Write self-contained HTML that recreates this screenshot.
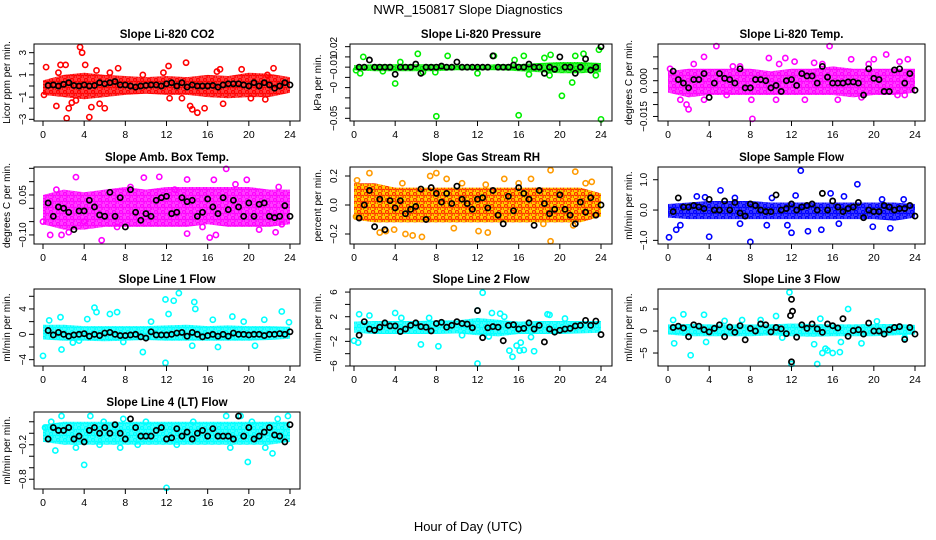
<!DOCTYPE html>
<html><head><meta charset="utf-8"><style>
html,body{margin:0;padding:0;background:#fff;}
svg{display:block;font-family:"Liberation Sans",sans-serif;}
</style></head><body>
<svg id="chart" width="936" height="540" viewBox="0 0 936 540" xmlns="http://www.w3.org/2000/svg">
<defs id="defs"></defs>
<text x="468" y="14" text-anchor="middle" font-size="13">NWR_150817  Slope Diagnostics</text>
<text x="468" y="531" text-anchor="middle" font-size="13">Hour of Day (UTC)</text>
<g id="panels"></g>
</svg>
<script>
const hours = [0.5,1,1.5,2,2.5,3,3.5,4,4.5,5,5.5,6,6.5,7,7.5,8,8.5,9,9.5,10,10.5,11,11.5,12,12.5,13,13.5,14,14.5,15,15.5,16,16.5,17,17.5,18,18.5,19,19.5,20,20.5,21,21.5,22,22.5,23,23.5,24];
const bandHours = [0,2,4,6,8,10,12,14,16,18,20,22,24];
const xTicks = [0,4,8,12,16,20,24];

const p1Hi=[0.5,1.0,1.2,1.0,0.9,0.8,0.9,0.8,1.0,0.9,1.2,1.1,0.8];
const p1Lo=[-0.8,-1.0,-1.2,-1.0,-0.8,-0.7,-0.8,-0.8,-1.0,-1.1,-1.0,-1.0,-0.6];
const p1Pts=[[0.3,1.7],[1.3,-1.8],[1.7,1.9],[2.2,1.9],[2.3,-2.9],[2.5,-2.0],[3.6,3.5],[3.8,3.0],[4.1,1.9],[4.5,-2.8],[4.7,-1.9],[5.5,-1.6],[6.0,-2.0],[7.3,1.6],[9.7,1.0],[11.7,1.2],[12.2,1.8],[12.3,-1.1],[13.5,-1.1],[13.9,2.1],[14.3,-1.8],[14.5,-2.1],[15.0,-2.4],[15.7,-2.0],[16.9,1.3],[17.5,-1.6],[19.3,1.5],[20.2,-1.1],[21.6,-1.2],[22.4,1.6],[21.8,1.0],[2.8,-1.5],[1.5,1.2],[5.2,1.4],[0.1,-0.8],[3.2,-1.3],[6.5,1.2],[17.2,1.5]];
const p1Black=[0.05,0.1,0.0,0.15,0.3,0.05,0.0,0.1,0.0,0.05,0.3,0.2,0.3,0.4,0.1,0.1,0.0,-0.1,0.0,0.05,0.1,0.1,0.0,0.2,0.3,0.0,0.3,-0.1,0.1,0.0,0.0,0.0,0.05,-0.1,0.1,0.2,0.2,0.2,0.1,0.0,0.3,0.0,0.3,0.1,-0.2,0.0,0.3,0.1];

const p2Hi=[0.002,0.003,0.003,0.003,0.003,0.002,0.002,0.003,0.003,0.004,0.005,0.005,0.004];
const p2Lo=[-0.003,-0.004,-0.004,-0.004,-0.004,-0.003,-0.003,-0.003,-0.004,-0.005,-0.006,-0.006,-0.005];
const p2Pts=[[8,-0.048],[16,-0.047],[24,-0.051],[20.2,-0.028],[4,-0.016],[0.6,-0.006],[0.9,0.010],[6.2,0.013],[9.1,0.011],[13.6,0.011],[16.5,0.011],[19.1,0.012],[22.3,0.013],[23.8,0.017],[17,-0.007],[12,-0.006],[21.2,-0.015],[19,-0.008],[4.5,0.005],[2.8,-0.004],[7.9,-0.005],[0.2,-0.003],[6.7,-0.005],[15.6,0.007],[18.5,0.009],[21.5,0.011],[23.5,-0.008]];
const p2Black=[0,0,0.007,0,0,0,0,-0.007,0,0,0,0.003,-0.006,0,0,0,0.001,0,0,0.005,0,0,0,0,0,0,0.011,0,0,0,0.002,0,0,0.003,0,0,-0.006,0,-0.002,0.01,0,0,-0.006,0,0.008,-0.003,0,0.02];

const p3Hi=[0.004,0.005,0.005,0.005,0.005,0.004,0.005,0.005,0.006,0.005,0.005,0.005,0.005];
const p3Lo=[-0.005,-0.007,-0.006,-0.006,-0.006,-0.006,-0.006,-0.006,-0.006,-0.007,-0.006,-0.006,-0.005];
const p3Pts=[[4.7,0.0145],[15.7,0.0145],[8.2,-0.016],[2,-0.012],[1.8,-0.010],[21.2,0.011],[3.5,0.010],[9.8,0.0095],[11.4,0.0095],[0.2,0.005],[1.2,-0.008],[7,0.006],[12.3,0.008],[14.2,0.0075],[17.8,0.009],[20,0.009],[22.5,0.008],[23.3,0.009],[8.1,-0.008],[10.5,-0.008],[13.3,-0.008],[16.5,-0.008],[22.3,-0.006],[23,-0.006],[5.7,-0.006],[3.5,-0.008],[18.8,-0.007],[2.5,0.007],[6.3,0.006],[10.8,0.007],[15.0,0.007],[19.5,0.007]];
const p3Black=[0.004,0.0005,-0.001,-0.003,0.0005,0.0005,0.003,-0.007,-0.001,0.003,0.001,0.0005,-0.001,0.005,-0.003,-0.003,0.0005,0.0005,0,-0.003,-0.002,-0.0045,0,0.0005,-0.002,0.003,0.002,0.002,-0.001,0.006,0.0015,-0.001,-0.001,-0.001,-0.0005,-0.0005,-0.001,-0.006,0.005,0.001,0.0005,-0.0045,-0.0045,0.0045,0.005,-0.001,0.003,-0.004];

const p4Hi=[0.05,0.07,0.06,0.07,0.08,0.07,0.08,0.08,0.08,0.08,0.08,0.07,0.07];
const p4Lo=[-0.06,-0.08,-0.08,-0.07,-0.07,-0.07,-0.07,-0.07,-0.06,-0.07,-0.07,-0.07,-0.06];
const p4Pts=[[3.2,0.117],[9.8,0.115],[11.3,0.118],[17.8,0.148],[19.8,0.107],[16.6,0.107],[5.7,-0.12],[0.7,-0.10],[1.8,-0.1],[14,-0.095],[16.2,-0.11],[16.8,-0.1],[22.6,-0.09],[7.2,-0.07],[4,-0.05],[21,-0.08],[23.2,-0.06],[14,0.108],[1.3,0.07],[22.9,0.08],[0,-0.05],[2.5,-0.09],[8.5,0.08],[12.8,0.07],[15.5,-0.07],[18.7,0.09]];
const p4Black=[0.02,-0.03,0.005,0,-0.015,-0.08,-0.01,-0.01,0.03,0.005,-0.025,-0.03,0.06,-0.03,0.04,-0.07,0.07,-0.015,-0.045,-0.02,-0.03,0.03,0.04,0.045,-0.02,-0.015,0.04,0.025,0.03,-0.03,-0.015,0.035,0.005,-0.02,0.04,-0.005,0.03,0.005,-0.03,0.02,-0.03,0.015,0.02,-0.03,-0.035,-0.03,0.01,-0.03];

const p5Hi=[0.15,0.15,0.12,0.12,0.12,0.12,0.12,0.12,0.12,0.12,0.12,0.12,0.08];
const p5Lo=[-0.1,-0.12,-0.12,-0.12,-0.12,-0.12,-0.12,-0.12,-0.12,-0.12,-0.12,-0.12,-0.08];
const p5Pts=[[1.5,0.22],[8,0.22],[9,0.18],[14.6,0.18],[17.2,0.18],[19.1,0.24],[21.5,0.23],[19.1,-0.25],[2.5,-0.19],[3.1,-0.18],[5,-0.2],[5.7,-0.21],[6.6,-0.22],[9.7,-0.16],[12.1,-0.18],[13,-0.19],[3.9,-0.17],[18.4,-0.13],[21.3,-0.14],[0.3,0.17],[7.4,0.2],[12.8,0.14],[23.1,0.16],[0.2,-0.08],[4.7,0.15],[10.5,0.15],[16,0.15],[22.5,0.15]];
const p5Black=[-0.09,0.0,0.1,-0.15,0.04,-0.17,0.03,-0.02,0.03,-0.06,-0.03,-0.01,0.11,-0.1,0.12,0.08,0.02,0.08,0.01,0.13,0.04,0.01,-0.03,0.04,0.05,-0.02,0.1,-0.07,-0.13,0.06,-0.04,0.12,0.08,0.04,-0.14,0.1,0.01,-0.06,-0.03,0.07,-0.03,-0.07,-0.13,0.02,-0.05,0.05,-0.07,0.0];

const p6Hi=[0.2,0.25,0.3,0.3,0.3,0.25,0.25,0.25,0.25,0.25,0.25,0.25,0.2];
const p6Lo=[-0.25,-0.3,-0.3,-0.3,-0.3,-0.3,-0.3,-0.3,-0.3,-0.3,-0.3,-0.35,-0.25];
const p6Pts=[[12.9,1.3],[18.4,0.85],[5.1,0.65],[15.8,0.55],[0.1,-0.9],[4,-0.88],[8,-1.05],[12,-0.75],[13.6,-0.7],[14.9,-0.65],[0.8,-0.65],[2.8,0.45],[3.6,0.42],[12.4,0.48],[17.1,0.45],[21.6,-0.6],[19.9,-0.55],[9.6,-0.5],[11.6,-0.5],[22.9,0.35],[1.2,-0.5],[6.5,0.4],[10.1,0.4],[7,-0.45],[16.6,-0.45],[20.8,0.35]];
const p6Black=[-0.05,0.4,0.1,0.1,0.15,0.1,0.05,0.35,0.0,0.0,0.3,0.0,0.25,-0.1,-0.2,0.2,0.15,0.0,-0.05,-0.05,0.5,0.0,0.05,0.2,0.0,0.1,0.15,0.2,0.0,0.55,0.0,0.3,0.1,-0.05,0.05,0.1,0.25,-0.25,0.0,-0.05,-0.05,0.15,0.1,0.0,0.05,0.05,0.15,-0.2];

const p7Hi=[1.5,1.5,1.3,1.3,1.3,1.3,1.4,1.5,1.3,1.4,1.3,1.3,1.2];
const p7Lo=[-0.8,-1.0,-1.0,-1.1,-1.0,-0.9,-1.0,-1.0,-1.0,-1.0,-1.0,-0.9,-0.7];
const p7Pts=[[13.2,6.5],[11.9,5.5],[12.7,5.3],[14.7,5.1],[14.8,4.0],[5,4.2],[5.2,3.5],[7.2,3.5],[23.2,3.6],[0,-3.4],[1.8,-2.4],[9.7,-2.8],[11.9,-4.5],[14.5,-1.8],[17,-2],[20.6,-1.8],[12.2,3.2],[6.5,3.2],[1.7,2.7],[16.5,2.3],[18.4,2.8],[21.5,2.3],[7.8,-1.2],[3.5,-1],[23.9,1.9],[0.6,2.2],[10.5,2.0],[4.3,2.4],[19.5,2.0],[2.9,-1.3]];
const p7Black=[0.6,-0.1,0.3,0.0,-0.3,-0.1,0.0,0.1,-0.3,0.0,-0.2,0.2,0.3,0.0,-0.2,-0.2,-0.1,0.0,-0.4,-0.6,0.4,-0.1,-0.1,-0.1,0.0,0.2,0.3,-0.3,0.3,0.0,-0.4,-0.2,0.0,-0.3,0.0,-0.3,0.2,0.0,0.0,-0.1,0.0,0.0,-0.2,0.0,0.0,0.1,0.0,0.4];

const p8Hi=[1.2,1.3,1.3,1.3,1.4,1.4,1.8,1.5,1.2,1.3,1.3,1.3,1.3];
const p8Lo=[-0.6,-0.8,-0.8,-0.8,-0.8,-0.7,-1.0,-1.2,-0.8,-0.8,-0.8,-0.7,-0.6];
const p8Pts=[[0.5,2.4],[1.5,2.2],[4,2.6],[12,3],[12.5,5.9],[14.2,2.5],[19,2.3],[15.1,-3.5],[15.8,-2.7],[16.1,-3.5],[16.5,-3.4],[17.5,-3.6],[15.4,-4.5],[6.5,-2.5],[8.2,-2.8],[12,-5.6],[13.1,-1.2],[0,-1.9],[0.4,-2.2],[17.2,-1.3],[18.8,2.4],[10.5,-1.0],[4.6,1.8],[7.3,1.8],[13.4,2.6],[14.6,2.0],[16.2,-2.2],[20.5,1.7]];
const p8Black=[-1.0,1.2,0.0,-0.2,0.3,1.0,0.5,0.5,-0.4,0.0,0.6,1.0,0.4,0.3,-0.3,0.9,1.1,0.3,0.6,1.2,0.9,0.8,0.2,3.0,-1.4,0.2,0.4,0.3,-1.9,0.6,0.7,0.0,0.1,1.0,0.0,0.6,-2.1,0.0,-0.5,-0.2,0.0,0.1,0.5,0.6,1.4,0.6,1.3,-0.9];

const p9Hi=[1.5,1.6,1.5,1.5,1.5,1.5,1.7,1.6,1.5,1.5,1.6,1.6,1.4];
const p9Lo=[-0.8,-1.2,-1.2,-1.2,-1.2,-1.0,-1.2,-1.3,-1.2,-1.2,-1.2,-1.0,-0.8];
const p9Pts=[[11.8,8.8],[12,-7.5],[14.5,-7.5],[14.2,-3],[15,-5],[15.3,-4],[15.5,-4.4],[16,-5],[16.7,-4.8],[16.8,-2.5],[17.5,5],[2.2,-5.5],[0.6,-2.8],[1.5,3.8],[3.5,3.7],[3.7,-2.5],[10.5,3.4],[18.8,-2.8],[11.1,-1.5],[7.2,2.5],[0.5,2.5],[5.5,2.3],[9,2.5],[14.8,2.8],[20.3,2.2],[23,-1.5]];
const p9Black=[0.8,1.1,0.7,-1.3,1.4,1.1,0.3,-0.2,0.6,1.4,-1.3,0.9,-0.3,1.2,-2,0.6,0.0,1.6,1.4,-0.2,0.8,0.5,-0.6,7.2,-1.4,1.4,0.6,1.6,0.5,-0.3,1.6,1.2,0.7,2.8,-1.2,0.1,0.3,-0.7,1.8,0.0,0.0,-0.7,0.3,0.8,1.0,-1.9,0.8,-0.7];
const p9BlackExtra=[[12.1,4.5],[11.9,3.5],[12,-7]];

const p10Hi=[0.15,0.2,0.2,0.2,0.2,0.2,0.2,0.2,0.2,0.2,0.2,0.2,0.2];
const p10Lo=[-0.15,-0.2,-0.2,-0.2,-0.2,-0.2,-0.2,-0.2,-0.2,-0.2,-0.2,-0.2,-0.15];
const p10Pts=[[4,-0.55],[12,-0.95],[19.9,-0.5],[22.3,-0.35],[4.6,0.3],[1.8,0.3],[17.8,0.3],[19.2,0.3],[23.8,0.3],[7.8,0.25],[1.2,-0.3],[3.2,-0.25],[5.5,-0.2],[7.5,-0.25],[13,-0.2],[18.2,-0.25],[21.6,-0.25],[9.2,-0.2],[0.2,0.1],[0.8,0.2],[5.9,0.2],[10,0.2],[14.6,0.2],[20.3,0.2],[22.8,0.25]];
const p10Black=[-0.1,0.1,0.05,0.05,0.1,-0.1,-0.05,-0.15,0.05,0.1,0.0,0.1,0.0,0.15,0.0,-0.1,0.25,0.1,-0.05,-0.05,-0.05,0.05,0.1,-0.1,-0.08,0.08,-0.05,0.02,-0.1,0.0,0.05,-0.05,0.08,-0.05,-0.05,-0.05,-0.1,0.3,-0.05,0.1,-0.1,-0.05,0.02,0.1,-0.03,-0.05,-0.15,0.15];

const p1Ticks=[3,2,1,0,-1,-2,-3], p1Labels=["3","","1","","−1","","−3"];
const p2Ticks=[0.02,0.01,0,-0.01,-0.02,-0.03,-0.04,-0.05], p2Labels=["0.02","","−0.01","","−0","","","−0.05"];
const p3Ticks=[0.01,0.005,0,-0.005,-0.01,-0.015], p3Labels=["","","0.000","","","−0.015"];
const p4Ticks=[0.15,0.1,0.05,0,-0.05,-0.1], p4Labels=["","","0.05","","","−0.10"];
const p5Ticks=[0.2,0,-0.2], p5Labels=["0.2","0.0","−0.2"];
const p6Ticks=[1,0,-1], p6Labels=["1.0","0.0","−1.0"];
const p7Ticks=[6,4,2,0,-2,-4], p7Labels=["","4","","0","","−4"];
const p8Ticks=[6,4,2,0,-2,-4,-6], p8Labels=["6","","2","","−2","","−6"];
const p9Ticks=[5,0,-5], p9Labels=["5","0","−5"];
const p10Ticks=[0.2,0,-0.2,-0.4,-0.6,-0.8], p10Labels=["","","−0.2","","","−0.8"];

const colLeft=[34,350,658], colRight=[300,612,925], colX0=[43,354,668], colX24=[290,601,915];
const colTitleX=[10,321,632], colTickX=[26,337,647];
const rowTop=[44,167,289,412], boxH=77;

const panels=[
 {name:"li820-co2",title:"Slope Li-820 CO2",ylab:"Licor ppm per min.",col:0,row:0,ymin:-3.15,ymax:3.78,color:"#ff0000",hi:p1Hi,lo:p1Lo,pts:p1Pts,black:p1Black,extra:[],ticks:p1Ticks,labels:p1Labels},
 {name:"li820-pressure",title:"Slope Li-820 Pressure",ylab:"kPa per min.",col:1,row:0,ymin:-0.0526,ymax:0.0226,color:"#00ee00",hi:p2Hi,lo:p2Lo,pts:p2Pts,black:p2Black,extra:[],ticks:p2Ticks,labels:p2Labels},
 {name:"li820-temp",title:"Slope Li-820 Temp.",ylab:"degrees C per min.",col:2,row:0,ymin:-0.0169,ymax:0.0154,color:"#ff00ff",hi:p3Hi,lo:p3Lo,pts:p3Pts,black:p3Black,extra:[],ticks:p3Ticks,labels:p3Labels},
 {name:"amb-box-temp",title:"Slope Amb. Box Temp.",ylab:"degrees C per min.",col:0,row:1,ymin:-0.134,ymax:0.155,color:"#ff00ff",hi:p4Hi,lo:p4Lo,pts:p4Pts,black:p4Black,extra:[],ticks:p4Ticks,labels:p4Labels},
 {name:"gas-stream-rh",title:"Slope Gas Stream RH",ylab:"percent per min.",col:1,row:1,ymin:-0.269,ymax:0.262,color:"#ff3000",color2:"#ffd000",pcolor:"#ff9a00",hi:p5Hi,lo:p5Lo,pts:p5Pts,black:p5Black,extra:[],ticks:p5Ticks,labels:p5Labels},
 {name:"sample-flow",title:"Slope Sample Flow",ylab:"ml/min per min.",col:2,row:1,ymin:-1.12,ymax:1.42,color:"#0000ff",hi:p6Hi,lo:p6Lo,pts:p6Pts,black:p6Black,extra:[],ticks:p6Ticks,labels:p6Labels},
 {name:"line1-flow",title:"Slope Line 1 Flow",ylab:"ml/min per min.",col:0,row:2,ymin:-5.0,ymax:7.15,color:"#00ffff",hi:p7Hi,lo:p7Lo,pts:p7Pts,black:p7Black,extra:[],ticks:p7Ticks,labels:p7Labels},
 {name:"line2-flow",title:"Slope Line 2 Flow",ylab:"ml/min per min.",col:1,row:2,ymin:-6.0,ymax:6.5,color:"#00ffff",hi:p8Hi,lo:p8Lo,pts:p8Pts,black:p8Black,extra:[],ticks:p8Ticks,labels:p8Labels},
 {name:"line3-flow",title:"Slope Line 3 Flow",ylab:"ml/min per min.",col:2,row:2,ymin:-7.95,ymax:9.55,color:"#00ffff",hi:p9Hi,lo:p9Lo,pts:p9Pts,black:p9Black,extra:p9BlackExtra,ticks:p9Ticks,labels:p9Labels},
 {name:"line4-flow",title:"Slope Line 4 (LT) Flow",ylab:"ml/min per min.",col:0,row:3,ymin:-0.97,ymax:0.37,color:"#00ffff",hi:p10Hi,lo:p10Lo,pts:p10Pts,black:p10Black,extra:[],ticks:p10Ticks,labels:p10Labels}
];

const NS="http://www.w3.org/2000/svg";
function mk(tag,attrs,parent){const e=document.createElementNS(NS,tag);for(const k in attrs)e.setAttribute(k,attrs[k]);parent.appendChild(e);return e;}
const root=document.getElementById('panels');
const defs=document.getElementById('defs');

panels.forEach((p,pi)=>{
  const L=colLeft[p.col],R=colRight[p.col],T=rowTop[p.row],B=T+boxH;
  const xs=h=>colX0[p.col]+(colX24[p.col]-colX0[p.col])*h/24;
  const ys=v=>T+(p.ymax-v)/(p.ymax-p.ymin)*boxH;
  // mottled pattern
  const pat=mk('pattern',{id:'pat'+pi,width:7,height:6,patternUnits:'userSpaceOnUse'},defs);
  mk('rect',{x:0,y:0,width:7,height:6,fill:p.color2||p.color,'fill-opacity':p.color2?1:0.75},pat);
  mk('circle',{cx:2,cy:2,r:1.6,fill:'none',stroke:p.color,'stroke-width':1.3},pat);
  mk('circle',{cx:5.5,cy:5,r:1.6,fill:'none',stroke:p.color,'stroke-width':1.3},pat);
  const g=mk('g',{},root);
  
  
  const t=mk('text',{x:(L+R)/2,y:T-6,'text-anchor':'middle','font-size':11.5,'font-weight':'bold'},g);
  t.textContent=p.title;
  
  
  let d='';
  bandHours.forEach((h,i)=>{d+=(i?'L':'M')+xs(h).toFixed(1)+','+ys(p.hi[i]).toFixed(1);});
  for(let i=bandHours.length-1;i>=0;i--)d+='L'+xs(bandHours[i]).toFixed(1)+','+ys(p.lo[i]).toFixed(1);
  const band=mk('path',{d:d+'Z',fill:'url(#pat'+pi+')',stroke:'none'},g);
  
  
  p.pts.forEach(q=>{
    const c=mk('circle',{cx:xs(q[0]),cy:ys(q[1]),r:2.6,fill:'none',stroke:p.pcolor||p.color,'stroke-width':1.6},g);
    
    
  });
  const bl=hours.map((h,i)=>[h,p.black[i]]).concat(p.extra);
  bl.forEach(q=>{
    const c=mk('circle',{cx:xs(q[0]),cy:ys(q[1]),r:2.6,fill:'none',stroke:'#000','stroke-width':1.7},g);
    
    
  });
  const box=mk('rect',{x:L,y:T,width:R-L,height:boxH,fill:'none',stroke:'#000','stroke-width':1},g);
  
  
  xTicks.forEach(h=>{
    const x=xs(h);
    const tk=mk('line',{x1:x,x2:x,y1:B,y2:B+5,stroke:'#000'},g);
    
    
    const lb=mk('text',{x:x,y:B+17,'text-anchor':'middle','font-size':10.5},g);
    lb.textContent=h;
    
    
  });
  p.ticks.forEach((v,i)=>{
    const y=ys(v);
    const tk=mk('line',{x1:L-5,x2:L,y1:y,y2:y,stroke:'#000'},g);
    
    
    if(p.labels[i]){
      const tx=colTickX[p.col];
      const lb=mk('text',{x:tx,y:y,'text-anchor':'middle','font-size':10,transform:'rotate(-90 '+tx+' '+y+')'},g);
      lb.textContent=p.labels[i];
      
      
    }
  });
  const yx=colTitleX[p.col],yy=(T+B)/2;
  const yl=mk('text',{x:yx,y:yy,'text-anchor':'middle','font-size':10,transform:'rotate(-90 '+yx+' '+yy+')'},g);
  yl.textContent=p.ylab;
  
  
});
</script>
</body></html>
